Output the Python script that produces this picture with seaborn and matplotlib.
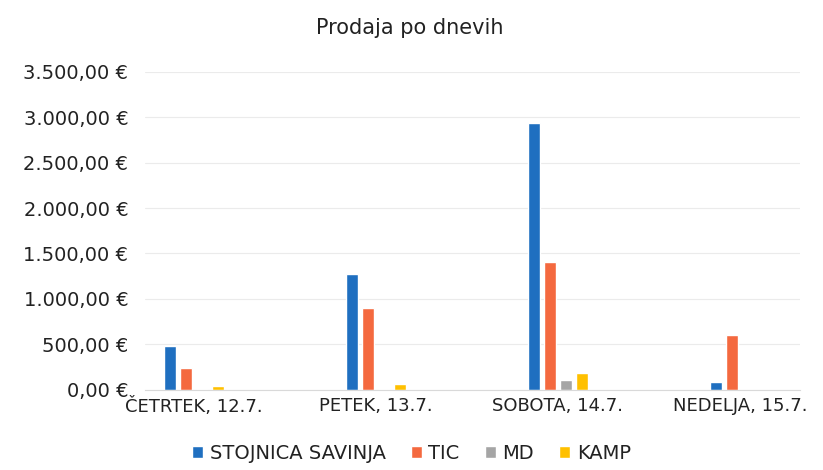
import pandas as pd
import seaborn as sns
import matplotlib.pyplot as plt
from matplotlib.ticker import FuncFormatter

days = ['ČETRTEK, 12.7.', 'PETEK, 13.7.', 'SOBOTA, 14.7.', 'NEDELJA, 15.7.']
stojnica = [480, 1275, 2940, 80]
tic = [237, 898, 1405, 600]
md = [8, 8, 105, 0]
kamp = [40, 60, 180, 0]
series = ['STOJNICA SAVINJA', 'TIC', 'MD', 'KAMP']
colors = ['#1f6fc0', '#f4693f', '#a5a5a5', '#ffc000']

rows = []
for name, vals in zip(series, [stojnica, tic, md, kamp]):
    for d, v in zip(days, vals):
        rows.append({'dan': d, 'serija': name, 'prodaja': v})
df = pd.DataFrame(rows)

sns.set_style("white")
plt.rcParams['font.family'] = ['DejaVu Sans']
fig = plt.figure(figsize=(8.23, 4.70), dpi=100)
ax = fig.add_axes([0.176, 0.171, 0.796, 0.676])
sns.barplot(data=df, x='dan', y='prodaja', hue='serija', palette=colors,
            width=0.352, gap=0.25, ax=ax, saturation=1)

ax.set_xlim(-0.27, 3.33)
ax.set_ylim(0, 3500)
ax.set_yticks(range(0, 3501, 500))
ax.yaxis.set_major_formatter(FuncFormatter(
    lambda v, p: '{:,.2f} €'.format(v).replace(',', 'X').replace('.', ',').replace('X', '.')))
ax.grid(axis='y', color='#ebebeb', linewidth=0.8)
ax.set_axisbelow(True)
for s in ['top', 'right', 'left']:
    ax.spines[s].set_visible(False)
ax.spines['bottom'].set_color('#d9d9d9')
ax.tick_params(axis='x', length=0, labelsize=13, colors='#222222', pad=5)
ax.tick_params(axis='y', length=0, labelsize=14, colors='#222222', pad=12)
ax.set_xlabel('')
ax.set_ylabel('')
fig.text(0.498, 0.94, 'Prodaja po dnevih', fontsize=15, color='#222222',
         ha='center', va='center')
ax.legend(loc='center', bbox_to_anchor=(0.5, 0.035), bbox_transform=fig.transFigure,
          ncol=4, frameon=False, fontsize=14, handlelength=0.55, handleheight=0.55,
          handletextpad=0.35, columnspacing=1.3, labelcolor='#222222',
          borderpad=0.1)
fig.savefig('out.png', dpi=100)
